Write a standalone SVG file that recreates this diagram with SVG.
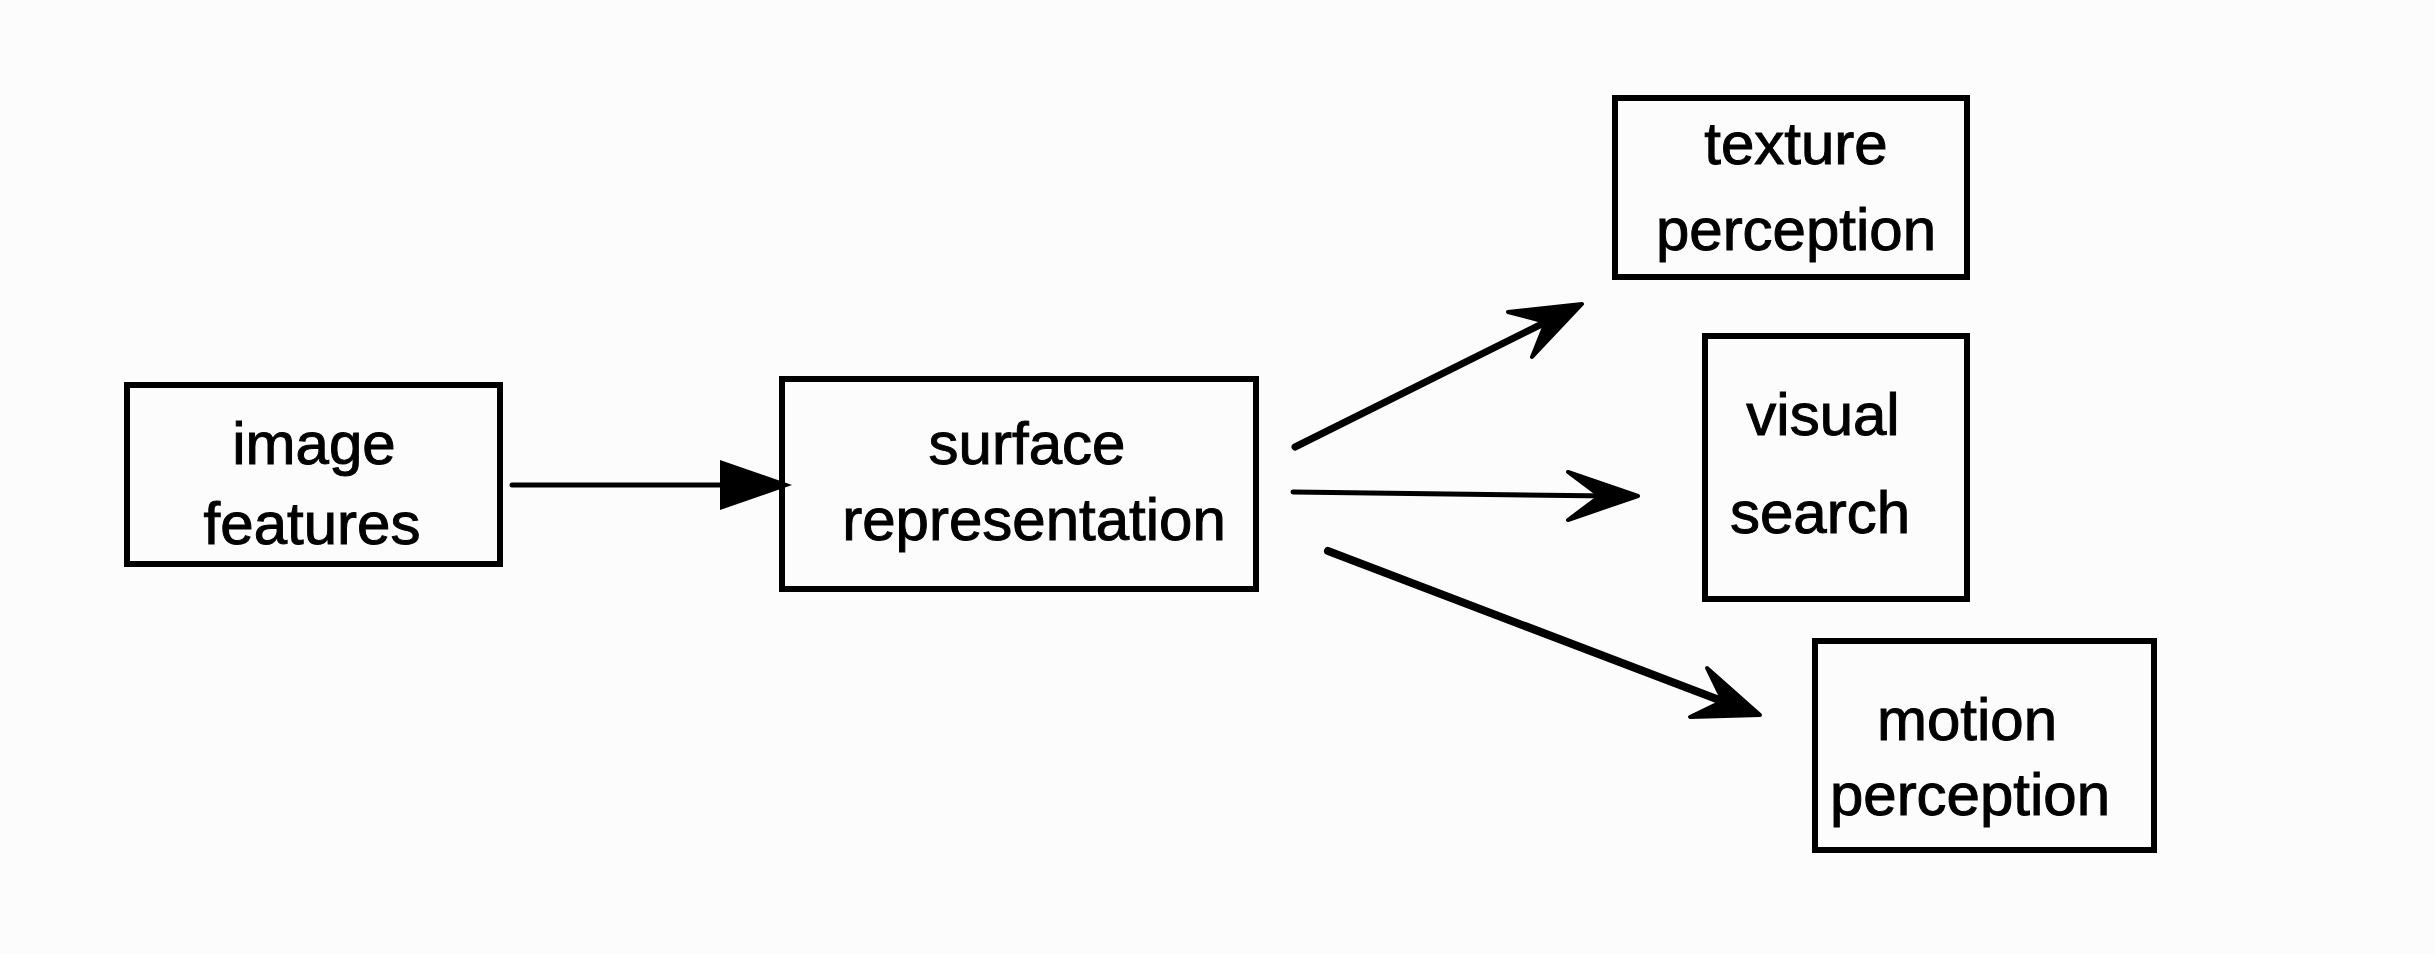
<svg xmlns="http://www.w3.org/2000/svg" width="2435" height="954" viewBox="0 0 2435 954">
<style>
.box{fill:none;stroke:#000;stroke-width:6}
.lbl{font-family:"Liberation Sans",Arial,sans-serif;font-size:60px;fill:#000;stroke:#000;stroke-width:1;text-anchor:middle}
.ln{stroke:#000;fill:none;stroke-linecap:round}
.head{fill:#000;stroke:#000;stroke-width:4;stroke-linejoin:round}
</style>
<rect x="0" y="0" width="2435" height="954" fill="#fcfcfc"/>
<g id="image-features">
<rect class="box" x="127" y="385" width="373" height="179"/>
<text class="lbl" x="314" y="464">image</text>
<text class="lbl" x="312" y="544">features</text>
</g>
<g id="surface-representation">
<rect class="box" x="782" y="379" width="474" height="210"/>
<text class="lbl" x="1027" y="464">surface</text>
<text class="lbl" x="1034" y="540">representation</text>
</g>
<g id="texture-perception">
<rect class="box" x="1615" y="98" width="352" height="179"/>
<text class="lbl" x="1796" y="164">texture</text>
<text class="lbl" x="1796" y="250">perception</text>
</g>
<g id="visual-search">
<rect class="box" x="1705" y="336" width="262" height="263"/>
<text class="lbl" x="1823" y="435">visual</text>
<text class="lbl" x="1820" y="533">search</text>
</g>
<g id="motion-perception">
<rect class="box" x="1815" y="641" width="339" height="209"/>
<text class="lbl" x="1967" y="740">motion</text>
<text class="lbl" x="1970" y="815">perception</text>
</g>
<g id="connectors">
<line class="ln" x1="512" y1="485" x2="725" y2="485" stroke-width="5"/>
<polygon points="720,460 792,485 720,510" fill="#000"/>
<line class="ln" x1="1295" y1="447" x2="1560" y2="315" stroke-width="7"/>
<polygon class="head" points="1582,304 1508,312 1546,322 1532,357"/>
<line class="ln" x1="1293" y1="492" x2="1610" y2="496" stroke-width="5"/>
<polygon class="head" points="1638,496 1568,472 1600,496 1568,520"/>
<line class="ln" x1="1328" y1="551" x2="1735" y2="706" stroke-width="8"/>
<polygon class="head" points="1760,715 1707,668 1723,701 1690,717"/>
</g>
</svg>
